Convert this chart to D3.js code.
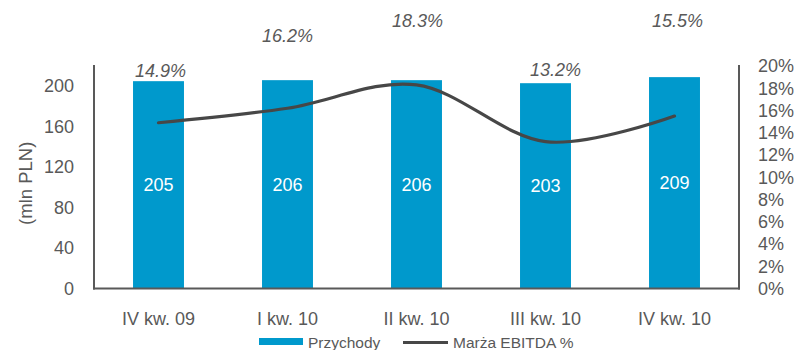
<!DOCTYPE html>
<html>
<head>
<meta charset="utf-8">
<script src="https://cdn.jsdelivr.net/npm/d3@7"></script>
<style>
  html, body { margin: 0; padding: 0; background: #fff; }
  svg { display: block; font-family: "Liberation Sans", Arial, sans-serif; }
</style>
</head>
<body>
<svg id="chart" width="799" height="350"></svg>
<script>
// Quarterly revenue (mln PLN) and EBITDA margin
const quarters = ["IV kw. 09", "I kw. 10", "II kw. 10", "III kw. 10", "IV kw. 10"];
const revenue = [205, 206, 206, 203, 209];
const ebitdaMargin = [0.149, 0.162, 0.183, 0.132, 0.155];
const revenueTicks = [0, 40, 80, 120, 160, 200];
const marginTicks = [0, 0.02, 0.04, 0.06, 0.08, 0.10, 0.12, 0.14, 0.16, 0.18, 0.20];

// Hand-placed offsets of the margin labels relative to their points
const marginLabelDx = [2, 0, 1, 10, 3];
const marginLabelDy = [-46, -66, -58, -66, -89];

const barColor = "#0099CC";
const lineColor = "#474747";
const textColor = "#595959";
const axisColor = "#595959";
const fontSize = 18;

const svg = d3.select("#chart");
const plot = { left: 94, right: 739, top: 66, bottom: 288.5 };

const x = d3.scaleBand().domain(quarters).range([plot.left, plot.right]).paddingInner(0).paddingOuter(0);
const yLeft = d3.scaleLinear().domain([0, 220]).range([plot.bottom, plot.top]);
const yRight = d3.scaleLinear().domain([0, 0.20]).range([plot.bottom, plot.top]);

const barWidth = x.bandwidth() * 0.395;

// Bars
svg.append("g").selectAll("rect")
  .data(quarters)
  .join("rect")
  .attr("x", (d) => x(d) + x.bandwidth() / 2 - barWidth / 2)
  .attr("width", barWidth)
  .attr("y", (d, i) => yLeft(revenue[i]))
  .attr("height", (d, i) => yLeft(0) - yLeft(revenue[i]))
  .attr("fill", barColor);

// Values inside the bars
svg.append("g").selectAll("text")
  .data(quarters)
  .join("text")
  .attr("x", (d) => x(d) + x.bandwidth() / 2)
  .attr("y", (d, i) => (yLeft(revenue[i]) + yLeft(0)) / 2)
  .attr("dy", "0.35em")
  .attr("text-anchor", "middle")
  .attr("fill", "#fff")
  .attr("font-size", fontSize)
  .text((d, i) => revenue[i]);

// Left axis
const leftAxis = svg.append("g")
  .attr("transform", `translate(${plot.left},0)`)
  .call(d3.axisLeft(yLeft).tickValues(revenueTicks).tickSize(0).tickPadding(20).tickFormat(d3.format("d")));
leftAxis.select(".domain").attr("stroke", axisColor).attr("stroke-width", 2)
  .attr("d", `M0,${plot.top - 1}V${plot.bottom + 1}`);
leftAxis.selectAll("text").attr("fill", textColor).attr("font-size", fontSize)
  .attr("font-family", "'Liberation Sans', Arial, sans-serif");

// Right axis
const rightAxis = svg.append("g")
  .attr("transform", `translate(${plot.right},0)`)
  .call(d3.axisRight(yRight).tickValues(marginTicks).tickSize(0).tickPadding(19).tickFormat(d3.format(".0%")));
rightAxis.select(".domain").attr("stroke", axisColor).attr("stroke-width", 2)
  .attr("d", `M0,${plot.top - 1}V${plot.bottom + 1}`);
rightAxis.selectAll("text").attr("fill", textColor).attr("font-size", fontSize)
  .attr("font-family", "'Liberation Sans', Arial, sans-serif");

// Bottom axis
const bottomAxis = svg.append("g")
  .attr("transform", `translate(0,${plot.bottom})`)
  .call(d3.axisBottom(x).tickSize(0).tickPadding(24));
bottomAxis.select(".domain").attr("stroke", axisColor).attr("stroke-width", 2)
  .attr("d", `M${plot.left - 1},0H${plot.right + 1}`);
bottomAxis.selectAll("text").attr("fill", textColor).attr("font-size", fontSize)
  .attr("font-family", "'Liberation Sans', Arial, sans-serif");

// Left axis title
svg.append("text")
  .attr("transform", `translate(32,${(plot.top + plot.bottom) / 2 + 6}) rotate(-90)`)
  .attr("text-anchor", "middle")
  .attr("fill", textColor)
  .attr("font-size", 18.5)
  .text("(mln PLN)");

// EBITDA margin line
const line = d3.line()
  .x((d, i) => x(quarters[i]) + x.bandwidth() / 2)
  .y((d) => yRight(d))
  .curve(d3.curveCardinal.tension(0));

svg.append("path")
  .datum(ebitdaMargin)
  .attr("d", line)
  .attr("fill", "none")
  .attr("stroke", lineColor)
  .attr("stroke-width", 3.2)
  .attr("stroke-linecap", "round");

// Margin labels
svg.append("g").selectAll("text")
  .data(ebitdaMargin)
  .join("text")
  .attr("x", (d, i) => x(quarters[i]) + x.bandwidth() / 2 + marginLabelDx[i])
  .attr("y", (d, i) => yRight(d) + marginLabelDy[i])
  .attr("text-anchor", "middle")
  .attr("fill", textColor)
  .attr("font-size", fontSize)
  .attr("font-style", "italic")
  .text((d) => d3.format(".1%")(d));

// Legend
const legend = svg.append("g");
legend.append("rect")
  .attr("x", 259).attr("y", 338).attr("width", 44).attr("height", 7)
  .attr("fill", barColor);
legend.append("text")
  .attr("x", 308).attr("y", 348)
  .attr("fill", textColor).attr("font-size", 15.5)
  .text("Przychody");
legend.append("line")
  .attr("x1", 403).attr("x2", 448).attr("y1", 342.5).attr("y2", 342.5)
  .attr("stroke", lineColor).attr("stroke-width", 3.2);
legend.append("text")
  .attr("x", 453).attr("y", 348)
  .attr("fill", textColor).attr("font-size", 15.5)
  .text("Marża EBITDA %");
</script>
</body>
</html>
